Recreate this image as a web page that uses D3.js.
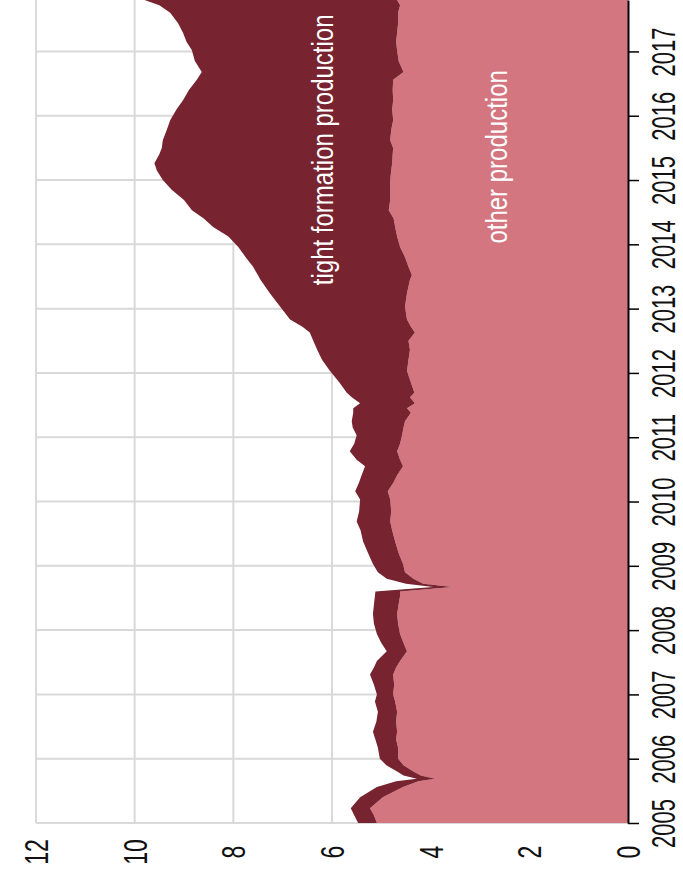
<!DOCTYPE html>
<html>
<head>
<meta charset="utf-8">
<script src="https://cdn.jsdelivr.net/npm/d3@7"></script>
<style>
  body { margin: 0; background: #fff; }
  svg { display: block; }
</style>
</head>
<body>
<div id="chart"></div>
<script>
// decimal year of each reading
var dates = [
  2005.00, 2005.12, 2005.23, 2005.40, 2005.56, 2005.65, 2005.69, 2005.74, 2005.80, 2005.90,
  2006.00, 2006.17, 2006.30, 2006.42, 2006.58, 2006.73, 2006.89,
  2007.00, 2007.15, 2007.31, 2007.42, 2007.52, 2007.67, 2007.80, 2007.94,
  2008.10, 2008.25, 2008.40, 2008.53, 2008.60, 2008.67, 2008.72, 2008.80, 2008.90,
  2009.03, 2009.20, 2009.38, 2009.55, 2009.69, 2009.85,
  2010.03, 2010.16, 2010.30, 2010.41, 2010.55, 2010.65, 2010.78, 2010.90,
  2011.03, 2011.15, 2011.25, 2011.38, 2011.45, 2011.53, 2011.62, 2011.69, 2011.85,
  2012.03, 2012.20, 2012.36, 2012.50, 2012.63, 2012.72, 2012.83,
  2013.03, 2013.24, 2013.45, 2013.52, 2013.65, 2013.80, 2013.96,
  2014.12, 2014.27, 2014.40, 2014.53, 2014.69, 2014.85,
  2015.00, 2015.15, 2015.26, 2015.40, 2015.50, 2015.62, 2015.78, 2015.93,
  2016.10, 2016.24, 2016.40, 2016.56, 2016.68, 2016.85,
  2017.02, 2017.15, 2017.29, 2017.44, 2017.60, 2017.72, 2017.80
];

// other production (million barrels per day)
var otherProd = [
  5.09, 5.15, 5.23, 4.97, 4.56, 4.25, 3.91, 4.20, 4.35, 4.55,
  4.66, 4.66, 4.70, 4.68, 4.70, 4.68, 4.72,
  4.76, 4.74, 4.76, 4.70, 4.62, 4.48, 4.55, 4.62,
  4.66, 4.68, 4.65, 4.62, 4.62, 3.55, 4.15, 4.35, 4.52,
  4.56, 4.65, 4.72, 4.78, 4.82, 4.80,
  4.82, 4.87, 4.75, 4.68, 4.56, 4.62, 4.68, 4.62,
  4.58, 4.55, 4.52, 4.40, 4.48, 4.32, 4.42, 4.33, 4.40,
  4.48, 4.45, 4.42, 4.45, 4.32, 4.40, 4.48,
  4.52, 4.48, 4.42, 4.38, 4.45, 4.52, 4.62,
  4.68, 4.72, 4.75, 4.85, 4.82, 4.82,
  4.82, 4.80, 4.78, 4.77, 4.76, 4.82, 4.80, 4.76,
  4.78, 4.76, 4.77, 4.76, 4.55, 4.65,
  4.68, 4.70, 4.68, 4.66, 4.66, 4.62, 4.68
];

// tight formation production
var tightProd = [
  0.38, 0.40, 0.39, 0.46, 0.53, 0.45, 0.37, 0.35, 0.33, 0.35,
  0.37, 0.41, 0.42, 0.49, 0.40, 0.39, 0.41,
  0.33, 0.41, 0.47, 0.45, 0.47, 0.41, 0.45, 0.47,
  0.49, 0.49, 0.50, 0.51, 0.50, 0.40, 0.35, 0.54, 0.55,
  0.61, 0.62, 0.65, 0.64, 0.68, 0.65,
  0.61, 0.66, 0.70, 0.72, 0.77, 0.88, 0.96, 0.93,
  0.92, 1.03, 1.08, 1.17, 1.09, 1.11, 1.18, 1.37, 1.45,
  1.56, 1.75, 1.88, 1.93, 2.13, 2.20, 2.37,
  2.53, 2.78, 3.03, 3.12, 3.15, 3.23, 3.28,
  3.42, 3.69, 3.85, 3.99, 4.18, 4.43,
  4.61, 4.75, 4.82, 4.73, 4.69, 4.61, 4.55, 4.52,
  4.37, 4.26, 4.13, 3.98, 4.09, 4.13,
  4.16, 4.25, 4.34, 4.46, 4.62, 4.88, 5.12
];

var yearTicks = [2005, 2006, 2007, 2008, 2009, 2010, 2011, 2012, 2013, 2014, 2015, 2016, 2017];
var valueTicks = [0, 2, 4, 6, 8, 10, 12];
var seriesKeys = ["other", "tight"];
var seriesColors = { other: "#d47680", tight: "#782330" };
var seriesLabels = { other: "other production", tight: "tight formation production" };

var W = 683, H = 879;
// the chart is drawn turned a quarter turn: values run right-to-left, years bottom-to-top
var plot = { left: 36, right: 628, top: 0, bottom: 823 };
var font = "'Liberation Sans', Arial, sans-serif";

var rows = dates.map(function (d, i) {
  return { date: d, other: otherProd[i], tight: tightProd[i] };
});

var v = d3.scaleLinear().domain([0, 12]).range([plot.right, plot.left]);
var t = d3.scaleLinear().domain([2005, 2017.8]).range([plot.bottom, plot.top]);

var svg = d3.select("#chart").append("svg")
    .attr("width", W)
    .attr("height", H);

// grid
var grid = svg.append("g")
    .attr("stroke", "#d9d9d9")
    .attr("stroke-width", 2);

grid.selectAll("line.v")
    .data(valueTicks.filter(function (d) { return d > 0; }))
    .enter().append("line")
    .attr("x1", function (d) { return v(d); })
    .attr("x2", function (d) { return v(d); })
    .attr("y1", plot.top)
    .attr("y2", plot.bottom);

grid.selectAll("line.h")
    .data(yearTicks)
    .enter().append("line")
    .attr("x1", plot.left)
    .attr("x2", plot.right)
    .attr("y1", function (d) { return t(d); })
    .attr("y2", function (d) { return t(d); });

// stacked areas
var stack = d3.stack().keys(seriesKeys);
var layers = stack(rows);

var area = d3.area()
    .y(function (d) { return t(d.data.date); })
    .x0(function (d) { return v(d[0]); })
    .x1(function (d) { return v(d[1]); });

svg.append("g")
    .selectAll("path")
    .data(layers)
    .enter().append("path")
    .attr("d", area)
    .attr("fill", function (d) { return seriesColors[d.key]; });

// series labels inside the areas (the source picture is stretched sideways)
var labelPos = {
  tight: { value: 6.2, date: 2015.47 },
  other: { value: 2.66, date: 2015.36 }
};
svg.append("g")
    .selectAll("text")
    .data(seriesKeys)
    .enter().append("text")
    .attr("transform", function (k) {
      return "translate(" + v(labelPos[k].value) + "," + t(labelPos[k].date) + ") rotate(-90) scale(1,1.25)";
    })
    .attr("text-anchor", "middle")
    .attr("dominant-baseline", "central")
    .attr("fill", "#fff")
    .attr("font-family", font)
    .attr("font-size", 24)
    .text(function (k) { return seriesLabels[k]; });

// year axis (right side)
var yearAxis = d3.axisRight(t)
    .tickValues(yearTicks)
    .tickSize(11)
    .tickSizeOuter(0)
    .tickFormat(d3.format("d"));

var ya = svg.append("g")
    .attr("transform", "translate(" + plot.right + ",0)")
    .call(yearAxis);

ya.select(".domain").attr("stroke", "#000").attr("stroke-width", 2);
ya.selectAll(".tick line").attr("stroke", "#000").attr("stroke-width", 1.5);
ya.selectAll(".tick text")
    .attr("x", null).attr("dy", null)
    .attr("transform", "translate(36,0) rotate(-90) scale(1,1.5)")
    .attr("text-anchor", "middle")
    .attr("dominant-baseline", "central")
    .attr("fill", "#111")
    .attr("font-family", font)
    .attr("font-size", 22);

// value axis (bottom)
var valueAxis = d3.axisBottom(v)
    .tickValues(valueTicks)
    .tickSize(0)
    .tickFormat(d3.format("d"));

var va = svg.append("g")
    .attr("transform", "translate(0," + plot.bottom + ")")
    .call(valueAxis);

va.select(".domain").remove();
va.selectAll(".tick text")
    .attr("y", null).attr("dy", null)
    .attr("transform", "translate(0,29) rotate(-90) scale(1,1.45)")
    .attr("text-anchor", "middle")
    .attr("dominant-baseline", "central")
    .attr("fill", "#111")
    .attr("font-family", font)
    .attr("font-size", 23);
</script>
</body>
</html>
